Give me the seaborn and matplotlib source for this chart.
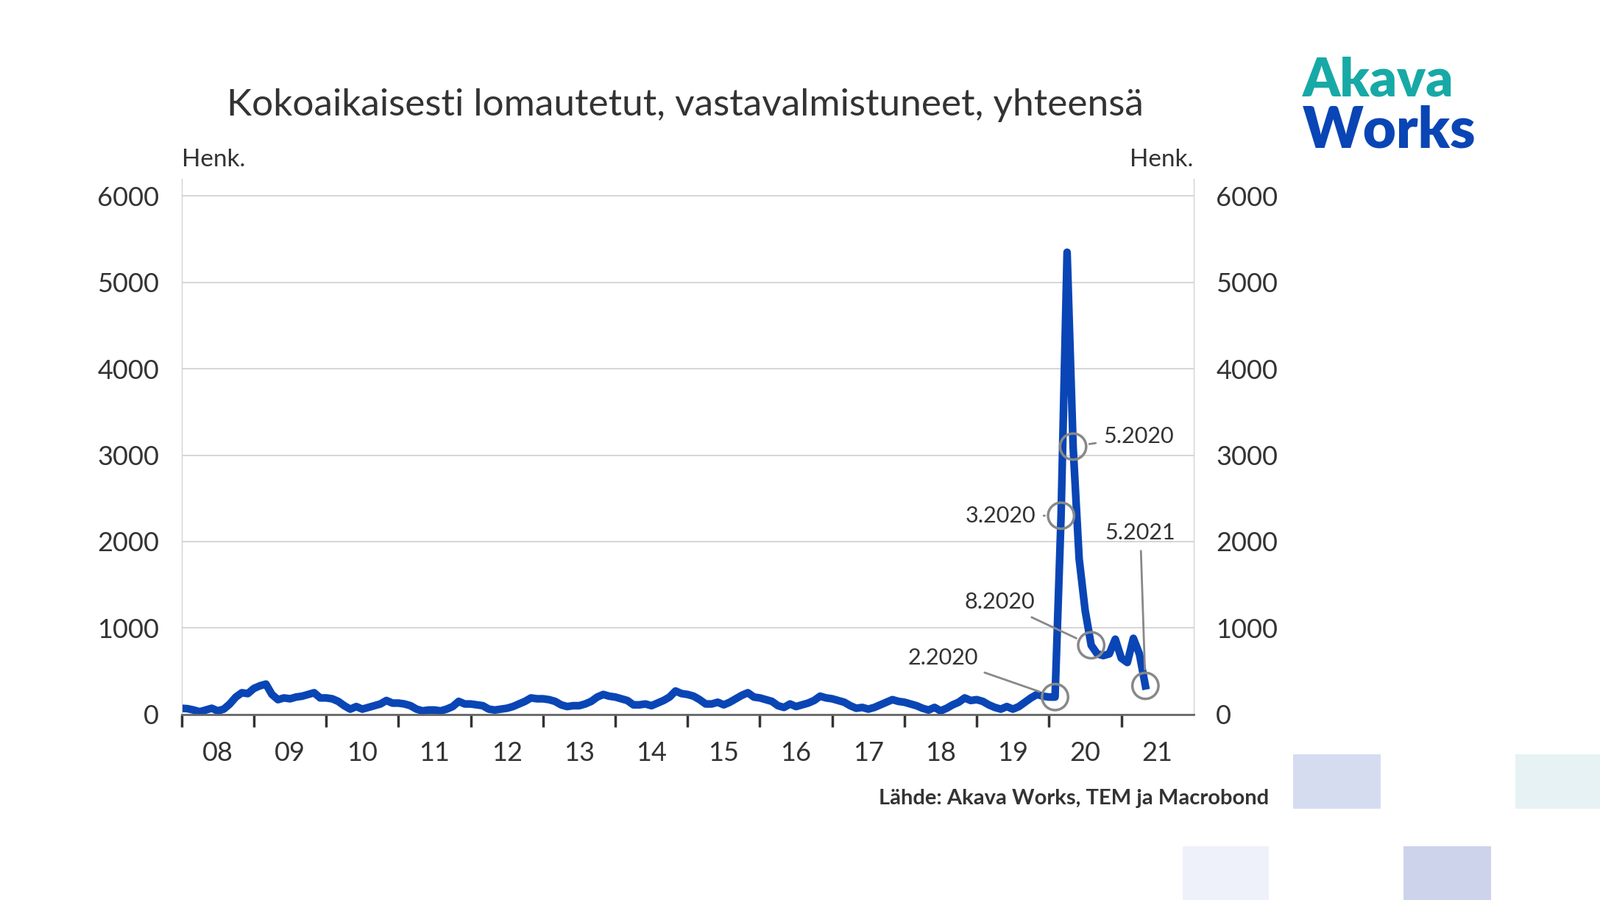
import numpy as np
import pandas as pd
import matplotlib
matplotlib.use("Agg")
import matplotlib.pyplot as plt
from matplotlib.patches import Rectangle
import seaborn as sns

plt.rcParams["font.family"] = "Lato"

years = list(range(2008, 2022))
values_by_year = {
    2008: [70, 65, 50, 30, 50, 70, 40, 60, 120, 200, 250, 240],
    2009: [300, 330, 350, 230, 170, 190, 180, 200, 210, 230, 250, 190],
    2010: [190, 180, 150, 100, 60, 90, 60, 80, 100, 120, 160, 130],
    2011: [130, 120, 100, 60, 40, 50, 50, 40, 60, 90, 150, 120],
    2012: [120, 110, 100, 60, 50, 60, 70, 90, 120, 150, 190, 180],
    2013: [180, 170, 150, 110, 90, 100, 100, 120, 150, 200, 230, 210],
    2014: [200, 180, 160, 110, 110, 120, 100, 130, 160, 200, 270, 240],
    2015: [230, 210, 170, 120, 120, 140, 110, 140, 180, 220, 250, 200],
    2016: [190, 170, 150, 100, 80, 120, 90, 110, 130, 160, 210, 190],
    2017: [180, 160, 140, 100, 70, 80, 60, 80, 110, 140, 170, 150],
    2018: [140, 120, 100, 70, 50, 80, 40, 70, 110, 140, 190, 160],
    2019: [170, 150, 110, 80, 60, 90, 60, 90, 140, 190, 230, 210],
    2020: [200, 200, 2300, 5350, 3100, 1800, 1200, 800, 700, 680, 700, 870],
    2021: [650, 600, 880, 700, 330],
}
year_labels = ["08", "09", "10", "11", "12", "13", "14", "15", "16", "17", "18", "19", "20", "21"]
marked = [(2020, 2, "2.2020"), (2020, 3, "3.2020"), (2020, 5, "5.2020"), (2020, 8, "8.2020"), (2021, 5, "5.2021")]

rows = []
for y, vals in values_by_year.items():
    for m, v in enumerate(vals, start=1):
        rows.append({"t": y + (m - 1) / 12, "v": v, "y": y, "m": m})
df = pd.DataFrame(rows)

fig = plt.figure(figsize=(21.74, 12.23), dpi=100)
ax = fig.add_axes([0.1135, 0.2063, 0.6325, 0.595])
blue = "#0a45b5"
sns.lineplot(data=df, x="t", y="v", ax=ax, color=blue, linewidth=7.5)
ax.set_xlim(2008, 2022)
ax.set_ylim(0, 6200)
ax.set_yticks(range(0, 7000, 1000))
ax.grid(axis="y", color="#d0d0d0", linewidth=1.2)
ax.set_axisbelow(True)
ax.set_xlabel(""); ax.set_ylabel("")
ax.set_xticks(years)
ax.set_xticklabels([])
ax.set_xticks([y + 0.5 for y in years], minor=True)
ax.set_xticklabels(year_labels, minor=True)
ax.tick_params(axis="x", which="major", length=12, width=2.5, color="#333333", direction="out")
ax.tick_params(axis="x", which="minor", length=0, labelsize=26, labelcolor="#333333", pad=26)
ax.tick_params(axis="y", length=0, labelsize=26, labelcolor="#333333", pad=22)
ax.spines["top"].set_visible(False)
for s in ["left", "right"]:
    ax.spines[s].set_color("#cccccc")
ax.spines["bottom"].set_color("#666666"); ax.spines["bottom"].set_linewidth(2)

ax2 = ax.twinx()
ax2.set_ylim(ax.get_ylim())
ax2.set_yticks(range(0, 7000, 1000))
ax2.tick_params(axis="y", length=0, labelsize=26, labelcolor="#333333", pad=22)
for s in ax2.spines.values():
    s.set_visible(False)

offsets = {"2.2020": (-75, 38), "3.2020": (-25, 0), "5.2020": (30, 10), "8.2020": (-55, 42), "5.2021": (-5, 140)}
for y, m, lab in marked:
    v = values_by_year[y][m - 1]
    t = y + (m - 1) / 12
    ax.scatter([t], [v], s=650, facecolors="none", edgecolors="#888888", linewidths=2.5, zorder=5)
    dx, dy = offsets[lab]
    ha = "left" if dx > 0 else "right"
    ax.annotate(lab, xy=(t, v), xytext=(dx, dy), textcoords="offset points",
                fontsize=22, color="#333333", ha=ha if lab != "5.2021" else "center",
                va="center" if lab != "5.2021" else "bottom",
                arrowprops=dict(arrowstyle="-", color="#888888", lw=2,
                                shrinkA=6, shrinkB=16))

fig.text(0.1135, 0.815, "Henk.", fontsize=24, color="#333333", ha="left")
fig.text(0.746, 0.815, "Henk.", fontsize=24, color="#333333", ha="right")
fig.text(0.428, 0.872, "Kokoaikaisesti lomautetut, vastavalmistuneet, yhteensä",
         fontsize=37, color="#333333", ha="center")
fig.text(0.793, 0.106, "Lähde: Akava Works, TEM ja Macrobond", fontsize=21,
         fontweight="bold", color="#333333", ha="right")
fig.text(0.814, 0.893, "Akava", fontsize=52, fontweight="black", color="#17a9a6", ha="left")
fig.text(0.814, 0.836, "Works", fontsize=56, fontweight="black", color="#0a45b5", ha="left")

for (x0, y0, w, h, c) in [(0.808, 0.101, 0.055, 0.061, "#d6dcf0"),
                          (0.947, 0.101, 0.06, 0.061, "#e6f2f4"),
                          (0.739, 0.0, 0.054, 0.06, "#eef1fa"),
                          (0.877, 0.0, 0.055, 0.06, "#cdd3ea")]:
    fig.add_artist(Rectangle((x0, y0), w, h, transform=fig.transFigure, color=c, lw=0))

fig.savefig("out.png", dpi=100)
